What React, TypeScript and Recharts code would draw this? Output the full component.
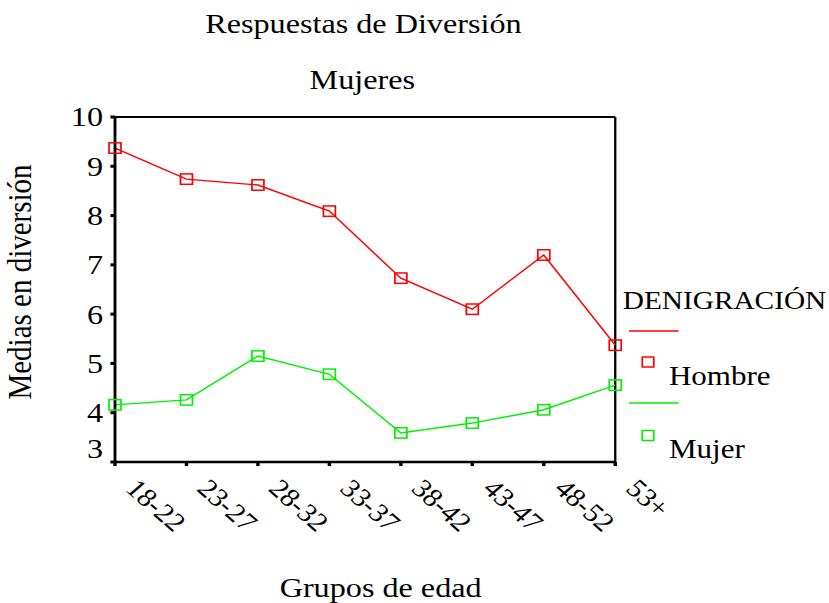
import { LineChart, Line, XAxis, YAxis, ReferenceLine, Legend, Label } from 'recharts';

const ages = ['18-22', '23-27', '28-32', '33-37', '38-42', '43-47', '48-52', '53+'];
const hombre = [9.37, 8.74, 8.62, 8.09, 6.73, 6.1, 7.2, 5.37];
const mujer = [4.16, 4.26, 5.15, 4.78, 3.59, 3.79, 4.06, 4.56];
const yTicks = [3, 4, 5, 6, 7, 8, 9, 10];

const data = ages.map((age, i) => ({ age, Hombre: hombre[i], Mujer: mujer[i] }));

const RED = '#ff0000';
const GREEN = '#00f000';
const FONT = '"Liberation Serif", "Times New Roman", serif';

// the reference is stretched horizontally, so draw narrow and scale
const SX = 1.15;
const W = Math.round(829 / SX);
const H = 603;

const squareDot = (color: string) => (props: any) => {
  const { cx, cy, index } = props;
  return (
    <rect key={index} x={cx - 5.2} y={cy - 5.2} width={10.4} height={10.4}
      fill="none" stroke={color} strokeWidth={1.5} />
  );
};

const XTick = (props: any) => {
  const { x, y, payload } = props;
  const px = x + 8;
  const py = y + 22;
  return (
    <text x={px} y={py} transform={`rotate(45 ${px} ${py})`} textAnchor="start"
      fontSize={26} fontFamily={FONT} fill="#000">
      {payload.value}
    </text>
  );
};

const YTick = (props: any) => {
  const { x, y, payload } = props;
  const shift = payload.value === 3 ? -13 : 0;
  return (
    <text x={x - 4.4} y={y + 9.5 + shift} textAnchor="end" fontSize={28} fontFamily={FONT} fill="#000">
      {payload.value}
    </text>
  );
};

const renderLegend = () => (
  <svg width={186} height={200} style={{ display: 'block', overflow: 'visible' }}>
    <text x={6.5} y={29} fontSize={25.5} fontFamily={FONT} fill="#000">DENIGRACIÓN</text>
    <line x1={12} x2={55} y1={51} y2={51} stroke={RED} strokeWidth={1.5} />
    <rect x={23.5} y={77} width={10} height={10} fill="none" stroke={RED} strokeWidth={1.5} />
    <text x={46.7} y={105} fontSize={27} fontFamily={FONT} fill="#000">Hombre</text>
    <line x1={12} x2={55} y1={123} y2={123} stroke={GREEN} strokeWidth={1.5} />
    <rect x={23.5} y={150.5} width={10} height={10} fill="none" stroke={GREEN} strokeWidth={1.5} />
    <text x={46.7} y={178} fontSize={27} fontFamily={FONT} fill="#000">Mujer</text>
  </svg>
);

export default function App() {
  return (
    <div style={{ position: 'absolute', left: 0, top: 0, width: 829, height: H, background: '#fff', overflow: 'hidden' }}>
      <div style={{ position: 'absolute', left: 0, top: 0, width: W, height: H, transform: `scaleX(${SX})`, transformOrigin: '0 0' }}>
        <svg width={W} height={120} style={{ position: 'absolute', left: 0, top: 0 }}>
          <text x={316} y={33} textAnchor="middle" fontSize={28} fontFamily={FONT} fill="#000">Respuestas de Diversión</text>
          <text x={315} y={89} textAnchor="middle" fontSize={28} fontFamily={FONT} fill="#000">Mujeres</text>
        </svg>
        <LineChart width={W} height={H} data={data} margin={{ top: 117, right: W - 535, bottom: 0, left: 0 }}
          style={{ position: 'absolute', left: 0, top: 0 }}>
          <XAxis dataKey="age" height={141} tick={<XTick />} interval={0} tickSize={4}
            axisLine={{ stroke: '#000', strokeWidth: 2.5 }} tickLine={{ stroke: '#000', strokeWidth: 3 }}>
            <Label content={() => (
              <text x={331} y={597} textAnchor="middle" fontSize={28} fontFamily={FONT} fill="#000">Grupos de edad</text>
            )} />
          </XAxis>
          <YAxis width={100} domain={[3, 10]} ticks={yTicks} type="number" tick={<YTick />} tickSize={4}
            axisLine={{ stroke: '#000', strokeWidth: 2.5 }} tickLine={{ stroke: '#000', strokeWidth: 3 }}>
            <Label content={() => (
              <text x={27} y={282} transform="rotate(-90 27 282)" textAnchor="middle" fontSize={29}
                fontFamily={FONT} fill="#000">Medias en diversión</text>
            )} />
          </YAxis>
          <ReferenceLine y={10} stroke="#000" strokeWidth={2} />
          <ReferenceLine x="53+" stroke="#000" strokeWidth={2} />
          <Legend layout="horizontal" verticalAlign="middle" align="center" content={renderLegend}
            wrapperStyle={{ position: 'absolute', left: 535, top: 280, width: 186, height: 200 }} />
          <Line dataKey="Hombre" stroke={RED} strokeWidth={1.4} dot={squareDot(RED)} isAnimationActive={false} />
          <Line dataKey="Mujer" stroke={GREEN} strokeWidth={1.4} dot={squareDot(GREEN)} isAnimationActive={false} />
        </LineChart>
      </div>
    </div>
  );
}
